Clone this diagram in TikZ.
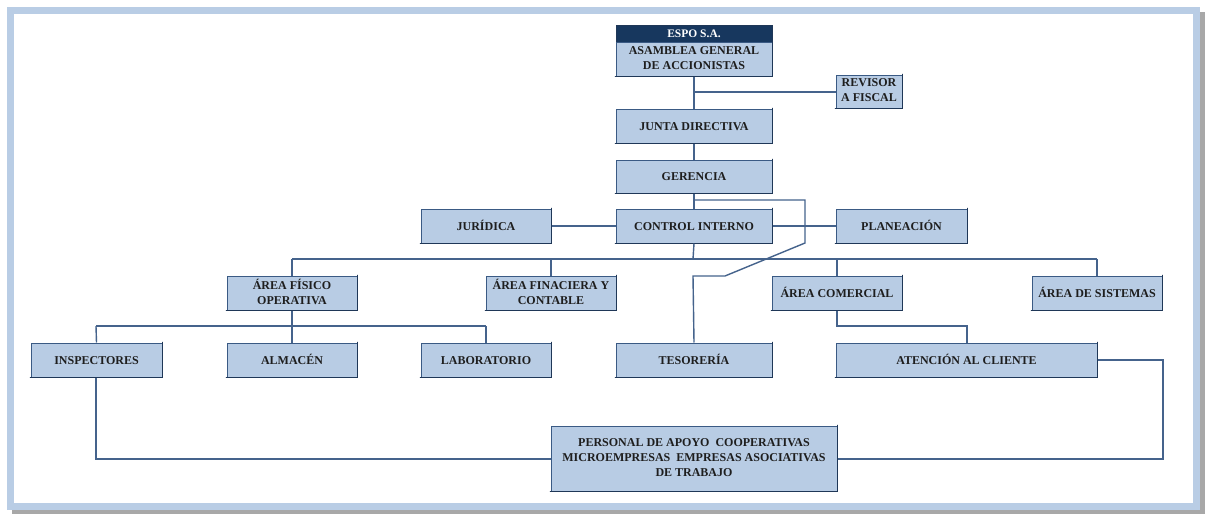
\documentclass[tikz,border=0pt]{standalone}
\usepackage{fontspec}
\setmainfont{Liberation Serif}
\definecolor{boxfill}{HTML}{B8CCE4}
\definecolor{boxline}{HTML}{3A5A84}
\definecolor{boxdark}{HTML}{1F3757}
\definecolor{conn}{HTML}{45638C}
\definecolor{frameblue}{HTML}{B9CDE5}
\definecolor{shadowgray}{HTML}{A8A8A8}
\definecolor{navy}{HTML}{17375E}
\definecolor{txt}{HTML}{1E1E1E}
\newcommand\mkbox[6]{\node[box, minimum width={#3-#2}, minimum height={#5-#4}] (#1) at ({(#2+#3)/2},{(#4+#5)/2}) {#6};}
\begin{document}
\begin{tikzpicture}[x=1pt,y=-1pt,
  box/.style={draw=boxline, fill=boxfill, line width=1pt, inner sep=0pt, align=center, text=txt,
    font=\bfseries\fontsize{12}{15}\selectfont,
    execute at begin node=\rule{0pt}{10pt}, execute at end node=\rule[-2pt]{0pt}{2pt}},
  header/.style={draw=boxdark, fill=navy, line width=1pt, inner sep=0pt, align=center, text=white,
    font=\bfseries\fontsize{11.5}{12}\selectfont},
  edge/.style={draw=boxdark, line width=1.8pt, line cap=round},
  link/.style={draw=conn, line width=1.4pt}]
\useasboundingbox (0,0) rectangle (1212,514);
% frame
\fill[shadowgray] (12,12) rectangle (1205,514);
\fill[frameblue] (7,7) rectangle (1200,510);
\fill[white] (14,14) rectangle (1193,503);

% boxes
\node[header, minimum width=156, minimum height=17] (espo) at (694,33.5) {ESPO S.A.};
\mkbox{asam}{616}{772}{42}{76}{ASAMBLEA GENERAL\\DE ACCIONISTAS}
\mkbox{rev}{836}{902}{75}{108}{REVISOR\\A FISCAL}
\mkbox{junta}{616}{772}{109}{143}{JUNTA DIRECTIVA}
\mkbox{ger}{616}{772}{160}{193}{GERENCIA}
\mkbox{jur}{421}{551}{209}{243}{JURÍDICA}
\mkbox{ci}{616}{772}{209}{243}{CONTROL INTERNO}
\mkbox{plan}{836}{967}{209}{243}{PLANEACIÓN}
\mkbox{afo}{227}{357}{276}{310}{ÁREA FÍSICO\\OPERATIVA}
\mkbox{afc}{486}{616}{276}{310}{ÁREA FINACIERA Y\\CONTABLE}
\mkbox{acom}{772}{902}{276}{310}{ÁREA COMERCIAL}
\mkbox{asis}{1032}{1162}{276}{310}{ÁREA DE SISTEMAS}
\mkbox{insp}{31}{162}{343}{377}{INSPECTORES}
\mkbox{alm}{227}{357}{343}{377}{ALMACÉN}
\mkbox{lab}{421}{551}{343}{377}{LABORATORIO}
\mkbox{tes}{616}{772}{343}{377}{TESORERÍA}
\mkbox{aten}{836}{1097}{343}{377}{ATENCIÓN AL CLIENTE}
\mkbox{pers}{551}{837}{426}{491}{PERSONAL DE APOYO\ \ COOPERATIVAS\\MICROEMPRESAS\ \ EMPRESAS ASOCIATIVAS\\DE TRABAJO}

% darker bottom / right edges
\foreach \n in {asam,rev,junta,ger,jur,ci,plan,afo,afc,acom,asis,insp,alm,lab,tes,aten,pers}
  \draw[edge] (\n.south west) -- (\n.south east) -- (\n.north east);

% coordinates
\coordinate (revj) at (693,92);
\coordinate (bus) at (693,259);
\coordinate (busL) at (292,259);
\coordinate (busR) at (1097,259);
\coordinate (sub) at (292,326);
\coordinate (subL) at (96,326);
\coordinate (subR) at (486,326);
\coordinate (comA) at (837,326);
\coordinate (comB) at (967,326);
\coordinate (inspB) at (96,459);
\coordinate (atenA) at (1163,360);
\coordinate (atenB) at (1163,459);
\coordinate (t0) at (693,200);
\coordinate (t1) at (805,200);
\coordinate (t2) at (805,243);
\coordinate (t3) at (725,276);
\coordinate (t4) at (693,276);

% connectors
\draw[link] (asam.south) -- (junta.north);
\draw[link] (revj) -- (rev.west |- revj);
\draw[link] (junta.south) -- (ger.north);
\draw[link] (ger.south) -- (ci.north);
\draw[link] (jur.east) -- (ci.west);
\draw[link] (ci.east) -- (plan.west);
\draw[link] (ci.south) -- (bus);
\draw[link] (busL) -- (busR);
\draw[link] (afo.north) -- (busL);
\draw[link] (afc.north) -- (afc.north |- bus);
\draw[link] (acom.north) -- (acom.north |- bus);
\draw[link] (asis.north) -- (busR);
\draw[link] (afo.south) -- (sub);
\draw[link] (subL) -- (subR);
\draw[link] (insp.north) -- (subL);
\draw[link] (alm.north) -- (sub);
\draw[link] (lab.north) -- (subR);
\draw[link] (acom.south) -- (comA) -- (comB) -- (aten.north -| comB);
\draw[link] (insp.south -| inspB) -- (inspB) -- (pers.west |- inspB);
\draw[link] (aten.east |- atenA) -- (atenA) -- (atenB) -- (pers.east |- atenB);
\draw[link] (t0) -- (t1) -- (t2) -- (t3) -- (t4) -- (tes.north);
\end{tikzpicture}
\end{document}
